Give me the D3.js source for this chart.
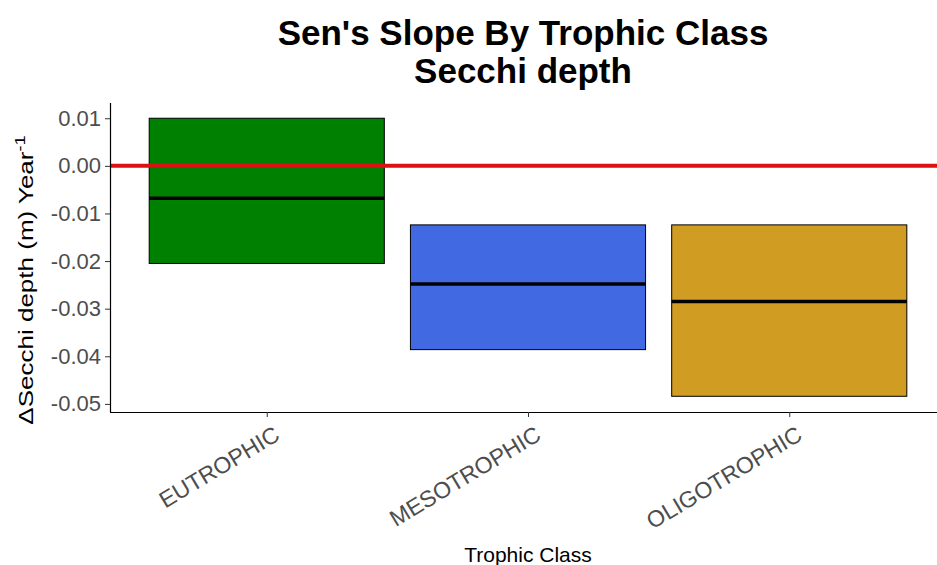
<!DOCTYPE html>
<html>
<head>
<meta charset="utf-8">
<script src="https://cdn.jsdelivr.net/npm/d3@7"></script>
<style>
  body { margin: 0; background: #fff; }
  svg { display: block; font-family: "Liberation Sans", Arial, sans-serif; }
</style>
</head>
<body>
<div id="chart"></div>
<script>
// Sen's slope summaries per trophic class
const classes = ["EUTROPHIC", "MESOTROPHIC", "OLIGOTROPHIC"];
const upper = [0.0100, -0.0124, -0.0124];
const median = [-0.0068, -0.0248, -0.0285];
const lower = [-0.0205, -0.0386, -0.0484];
const fills = ["#008000", "#4169E1", "#D09C22"];
const yTicks = [0.01, 0.00, -0.01, -0.02, -0.03, -0.04, -0.05];

const width = 937, height = 565;
const panel = { left: 110, right: 946, top: 103, bottom: 412 };

const svg = d3.select("#chart").append("svg")
  .attr("width", width)
  .attr("height", height);

// ggplot-style discrete axis: positions 1..n with 0.6 expansion
const x = d3.scaleLinear()
  .domain([0.4, classes.length + 0.6])
  .range([panel.left, panel.right]);

const y = d3.scaleLinear()
  .domain([-0.0517, 0.0132])
  .range([panel.bottom, panel.top]);

const boxW = x(1.45) - x(0.55);

const rows = classes.map((c, i) => ({
  cls: c, pos: i + 1, hi: upper[i], mid: median[i], lo: lower[i], fill: fills[i]
}));

// boxes
const g = svg.append("g");
g.selectAll("rect.box")
  .data(rows)
  .join("rect")
  .attr("class", "box")
  .attr("x", d => x(d.pos) - boxW / 2)
  .attr("width", boxW)
  .attr("y", d => y(d.hi))
  .attr("height", d => y(d.lo) - y(d.hi))
  .attr("fill", d => d.fill)
  .attr("stroke", "#000")
  .attr("stroke-width", 1);

g.selectAll("line.med")
  .data(rows)
  .join("line")
  .attr("class", "med")
  .attr("x1", d => x(d.pos) - boxW / 2)
  .attr("x2", d => x(d.pos) + boxW / 2)
  .attr("y1", d => y(d.mid))
  .attr("y2", d => y(d.mid))
  .attr("stroke", "#000")
  .attr("stroke-width", 3.5);

// zero reference line
svg.append("line")
  .attr("x1", panel.left)
  .attr("x2", width)
  .attr("y1", y(0))
  .attr("y2", y(0))
  .attr("stroke", "#DD1111")
  .attr("stroke-width", 4);

// y axis
const yAxis = svg.append("g")
  .attr("transform", `translate(${panel.left},0)`)
  .call(d3.axisLeft(y).tickValues(yTicks).tickSize(5).tickPadding(4));
yAxis.select(".domain").attr("stroke", "#000").attr("stroke-width", 1.2)
  .attr("d", `M0.5,${panel.top}V${panel.bottom}`);
yAxis.selectAll(".tick line").attr("stroke", "#333");
yAxis.selectAll(".tick text")
  .attr("fill", "#4D4D4D")
  .style("font-size", "22px")
  .text(d => d3.format(".2f")(d).replace("\u2212", "-"));

// x axis
const xAxis = svg.append("g")
  .attr("transform", `translate(0,${panel.bottom})`)
  .call(d3.axisBottom(x).tickValues(rows.map(d => d.pos)).tickFormat(d => classes[d - 1]).tickSize(5));
xAxis.select(".domain").attr("stroke", "#000").attr("stroke-width", 1.2)
  .attr("d", `M${panel.left},0.5H${width}`);
xAxis.selectAll(".tick line").attr("stroke", "#333");
xAxis.selectAll(".tick text")
  .attr("fill", "#4D4D4D")
  .style("font-size", "23px")
  .attr("text-anchor", "end")
  .attr("dy", null)
  .attr("y", 0)
  .attr("transform", "translate(14,27) rotate(-31)");

// titles
const titleX = 523;
svg.append("text")
  .attr("x", titleX)
  .attr("y", 45)
  .attr("text-anchor", "middle")
  .style("font-size", "35px")
  .style("font-weight", "bold")
  .text("Sen's Slope By Trophic Class");
svg.append("text")
  .attr("x", titleX)
  .attr("y", 83)
  .attr("text-anchor", "middle")
  .style("font-size", "35px")
  .style("font-weight", "bold")
  .text("Secchi depth");

svg.append("text")
  .attr("x", 528)
  .attr("y", 562)
  .attr("text-anchor", "middle")
  .style("font-size", "21px")
  .text("Trophic Class");

const yt = svg.append("text")
  .attr("transform", "translate(33,280) rotate(-90) scale(1.3,1)")
  .attr("text-anchor", "middle")
  .style("font-size", "20px");
yt.append("tspan").text("\u0394Secchi depth (m) Year");
yt.append("tspan").attr("dy", -8).style("font-size", "14px").text("-1");
</script>
</body>
</html>
